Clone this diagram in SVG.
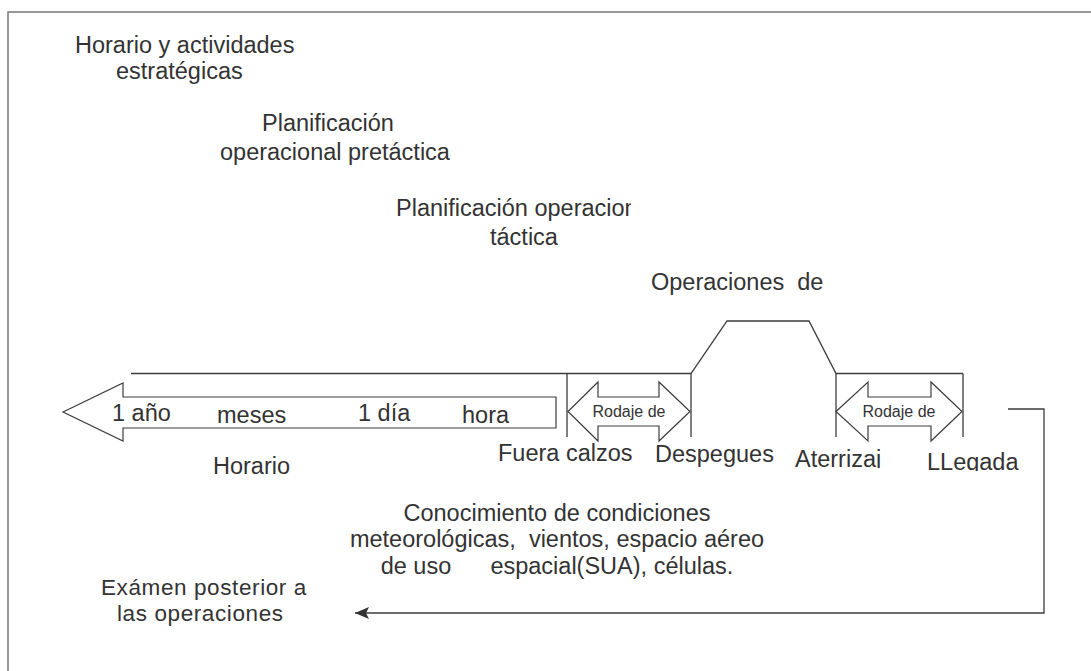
<svg xmlns="http://www.w3.org/2000/svg" width="1091" height="671" viewBox="0 0 1091 671">
<style>
.t{font-family:"Liberation Sans",Arial,sans-serif;font-size:23.5px;fill:#333}
.s{font-family:"Liberation Sans",Arial,sans-serif;font-size:16px;fill:#333}
.p{font-family:"Liberation Sans",Arial,sans-serif;font-size:22.5px;letter-spacing:0.6px;fill:#333}
.ln{fill:none;stroke:#3c3c3c;stroke-width:1.3}
.ar{fill:#fff;stroke:#3c3c3c;stroke-width:1.2;stroke-linejoin:miter}
</style>
<defs>
<clipPath id="cp1"><rect x="0" y="0" width="631" height="671"/></clipPath>
<clipPath id="cp2"><rect x="780" y="420" width="130" height="48"/></clipPath>
<clipPath id="cp3"><rect x="910" y="420" width="130" height="51"/></clipPath>
<marker id="ah" viewBox="0 0 14 12" refX="14" refY="6" markerWidth="14" markerHeight="12" markerUnits="userSpaceOnUse" orient="auto">
<path d="M0,0 L14,6 L0,12 L3,6 z" fill="#333"/>
</marker>
</defs>
<rect x="0" y="0" width="1091" height="671" fill="#fff"/>
<rect id="frame" x="8" y="12" width="1100" height="700" fill="none" stroke="#777" stroke-width="1.5"/>

<g id="connectors">
<path class="ln" d="M131,373.5 H691 L727,321 H809 L836,373.5 H963"/>
<path class="ln" d="M567,373.5 V437"/>
<path class="ln" d="M691,373.5 V437"/>
<path class="ln" d="M836,373.5 V437"/>
<path class="ln" d="M963,373.5 V437"/>
<path class="ln" d="M1008,409 H1044 V613 H355" marker-end="url(#ah)"/>
</g>

<g id="strategic">
<text class="t" x="75" y="53">Horario y actividades</text>
<text class="t" x="116" y="79">estratégicas</text>
</g>
<g id="pretactical">
<text class="t" x="262" y="131">Planificación</text>
<text class="t" x="220" y="160">operacional pretáctica</text>
</g>
<g id="tactical">
<text class="t" x="396" y="216" clip-path="url(#cp1)">Planificación operacion</text>
<text class="t" x="490" y="245">táctica</text>
</g>
<g id="operations">
<text class="t" x="651" y="290" xml:space="preserve">Operaciones  de</text>
</g>

<g id="timeline">
<path class="ar" d="M63,412 L123,383 V397 H556 V428 H123 V441 Z"/>
<text class="t" x="112" y="421">1 año</text>
<text class="t" x="217" y="423">meses</text>
<text class="t" x="358" y="421">1 día</text>
<text class="t" x="462" y="423">hora</text>
</g>
<g id="horario">
<text class="t" x="213" y="474">Horario</text>
</g>

<g id="taxi-out">
<path class="ar" d="M568,411.5 L598,382 V397 H659 V382 L690,411.5 L659,441 V426 H598 V441 Z"/>
<text class="s" x="629" y="417" text-anchor="middle">Rodaje de</text>
</g>
<g id="taxi-in">
<path class="ar" d="M836,411.5 L868,382 V397 H931 V382 L962,411.5 L931,441 V426 H868 V441 Z"/>
<text class="s" x="899" y="417" text-anchor="middle">Rodaje de</text>
</g>

<g id="fuera-calzos"><text class="t" x="498" y="461">Fuera calzos</text></g>
<g id="despegues"><text class="t" x="655" y="462">Despegues</text></g>
<g id="aterrizaje"><text class="t" x="795" y="467" clip-path="url(#cp2)">Aterrizaj</text></g>
<g id="llegada"><text class="t" x="927" y="470" clip-path="url(#cp3)">LLegada</text></g>

<g id="conditions">
<text class="t" x="557" y="521" text-anchor="middle">Conocimiento de condiciones</text>
<text class="t" x="557" y="547" text-anchor="middle" xml:space="preserve">meteorológicas,  vientos, espacio aéreo</text>
<text class="t" x="557" y="574" text-anchor="middle" xml:space="preserve">de uso      espacial(SUA), células.</text>
</g>

<g id="post-review">
<text class="p" x="101" y="595">Exámen posterior a</text>
<text class="p" x="117" y="621">las operaciones</text>
</g>
</svg>
